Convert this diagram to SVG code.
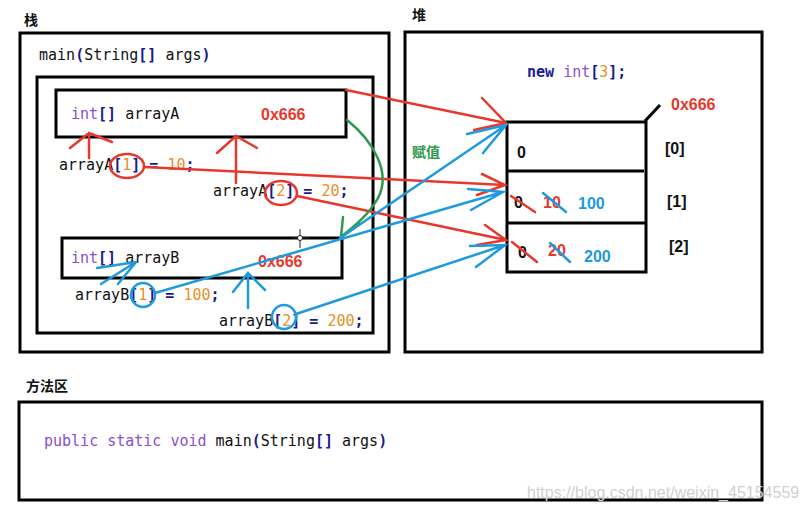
<svg xmlns="http://www.w3.org/2000/svg" width="809" height="510" viewBox="0 0 809 510">
<defs>
<style>
.box{fill:none;stroke:#000;stroke-width:3}
.code{font-family:"DejaVu Sans Mono","Liberation Mono",monospace;font-size:15px;fill:#111}
.kw{fill:#8a4fd0}
.br{fill:#1a1a8a;font-weight:bold}
.num{fill:#e8902a}
.lbl{font-family:"Noto Sans CJK SC","Noto Sans",sans-serif;font-size:14px;font-weight:bold;fill:#111}
.bold{font-family:"Liberation Sans",Arial,sans-serif;font-weight:bold;font-size:16px}
.red{stroke:#e8382e;stroke-width:2.5;fill:none;stroke-linecap:round}
.blue{stroke:#1e9ade;stroke-width:2.5;fill:none;stroke-linecap:round}
.green{stroke:#2e9a4e;stroke-width:2.5;fill:none;stroke-linecap:round}
</style>
</defs>
<rect width="809" height="510" fill="#fff"/>

<g id="stack">
<text class="lbl" x="24" y="25">栈</text>
<rect class="box" x="20" y="33" width="369" height="319"/>
<text class="code" x="39" y="60">main<tspan class="br">(</tspan>String<tspan class="br">[]</tspan> args<tspan class="br">)</tspan></text>
<rect class="box" x="37" y="77" width="336" height="256"/>
</g>

<g id="arrayA">
<rect class="box" x="56" y="90" width="290" height="47"/>
<text class="code" x="71" y="119"><tspan class="kw">int</tspan><tspan class="br">[]</tspan> arrayA</text>
<text class="bold" x="261" y="120" fill="#e8382e" font-size="17">0x666</text>
</g>

<g id="assignA">
<text class="code" x="59" y="170">arrayA<tspan class="br">[</tspan><tspan class="num">1</tspan><tspan class="br">]</tspan> <tspan class="br">=</tspan> <tspan class="num">10</tspan><tspan class="br">;</tspan></text>
<text class="code" x="213" y="196">arrayA<tspan class="br">[</tspan><tspan class="num">2</tspan><tspan class="br">]</tspan> <tspan class="br">=</tspan> <tspan class="num">20</tspan><tspan class="br">;</tspan></text>
</g>

<g id="arrayB">
<rect class="box" x="62" y="238" width="280" height="40"/>
<text class="code" x="71" y="263"><tspan class="kw">int</tspan><tspan class="br">[]</tspan> arrayB</text>
<text class="bold" x="258" y="267" fill="#e8382e" font-size="17">0x666</text>
</g>

<g id="assignB">
<text class="code" x="75" y="300">arrayB<tspan class="br">[</tspan><tspan class="num">1</tspan><tspan class="br">]</tspan> <tspan class="br">=</tspan> <tspan class="num">100</tspan><tspan class="br">;</tspan></text>
<text class="code" x="219" y="326">arrayB<tspan class="br">[</tspan><tspan class="num">2</tspan><tspan class="br">]</tspan> <tspan class="br">=</tspan> <tspan class="num">200</tspan><tspan class="br">;</tspan></text>
</g>

<g id="heap">
<text class="lbl" x="412" y="20">堆</text>
<rect class="box" x="405" y="32" width="357" height="320"/>
<text class="code" x="527" y="77"><tspan fill="#1a1aa0" font-weight="bold">new</tspan> <tspan class="kw">int</tspan><tspan class="br">[</tspan><tspan class="num">3</tspan><tspan class="br">];</tspan></text>
</g>

<g id="heapArray">
<rect class="box" x="507" y="122" width="139" height="150"/>
<line x1="507" y1="171" x2="644" y2="171" stroke="#000" stroke-width="3"/>
<line x1="507" y1="223" x2="646" y2="223" stroke="#000" stroke-width="3"/>
<line x1="645" y1="121" x2="660" y2="105" stroke="#000" stroke-width="3"/>
<text class="bold" x="671" y="110" fill="#e8382e" font-size="17">0x666</text>
<text class="bold" x="517" y="158" fill="#111">0</text>
<text class="bold" x="665" y="154" fill="#111">[0]</text>
<text class="bold" x="514" y="208" fill="#111">0</text>
<text class="bold" x="543" y="208" fill="#e8382e">10</text>
<text class="bold" x="578" y="209" fill="#1e9ade">100</text>
<text class="bold" x="667" y="207" fill="#111">[1]</text>
<text class="bold" x="518" y="258" fill="#111">0</text>
<text class="bold" x="548" y="256" fill="#e8382e">20</text>
<text class="bold" x="584" y="262" fill="#1e9ade">200</text>
<text class="bold" x="669" y="252" fill="#111">[2]</text>
<path class="red" d="M511,196 L535,212 M512,242 L537,262"/>
<path class="blue" d="M543,193 L566,212 M550,243 L570,262"/>
</g>

<g id="methodArea">
<text class="lbl" x="26" y="391">方法区</text>
<rect class="box" x="19" y="402" width="743" height="98" stroke-width="3.5"/>
<text class="code" x="44" y="446"><tspan class="kw">public static void</tspan> main<tspan class="br">(</tspan>String<tspan class="br">[]</tspan> args<tspan class="br">)</tspan></text>
</g>

<g id="connectors">
<path class="red" d="M346,90 L506,123 M482,98 L506,123 L474,130"/>
<path class="red" d="M89,158 L89,133 M70,148 L89,133 L112,142"/>
<path class="red" d="M236,183 L236,136 M217,153 L236,136 L257,148"/>
<ellipse class="red" cx="127" cy="166" rx="17" ry="12"/>
<ellipse class="red" cx="281" cy="193" rx="16" ry="12"/>
<path class="red" d="M144,167 L505,185 M482,174 L505,185 L477,195"/>
<path class="red" d="M297,196 L506,240 M485,225 L506,240 L477,245"/>
<path class="green" d="M347,120 C372,140 392,172 378,198 C368,216 352,228 341,237 M343,217 L341,237 L360,224"/>
<text x="412" y="157" font-family="Noto Sans CJK SC,sans-serif" font-size="14" font-weight="bold" fill="#2e9a4e">赋值</text>
<path class="blue" d="M340,238 L506,125 M467,134 L506,125 L483,153"/>
<path class="blue" d="M97,268 L136,262 M101,284 L136,262 M118,284 L136,262"/>
<path class="blue" d="M248,308 L248,273 M233,292 L248,273 L265,290"/>
<circle class="blue" cx="143" cy="295" r="12"/>
<circle class="blue" cx="284" cy="317" r="12"/>
<path class="blue" d="M155,293 L503,192 M468,189 L503,192 L471,210"/>
<path class="blue" d="M296,314 L505,245 M470,246 L505,245 L476,267"/>
<g stroke="#222" stroke-width="1" fill="#fff">
<line x1="300" y1="229" x2="300" y2="248"/>
<line x1="292" y1="238" x2="310" y2="238"/>
<circle cx="300" cy="238" r="2.5"/>
</g>
</g>

<text x="527" y="498" font-family="Liberation Sans,Arial,sans-serif" font-size="16" fill="#d0d0d0">https://blog.csdn.net/weixin_45154559</text>
</svg>
